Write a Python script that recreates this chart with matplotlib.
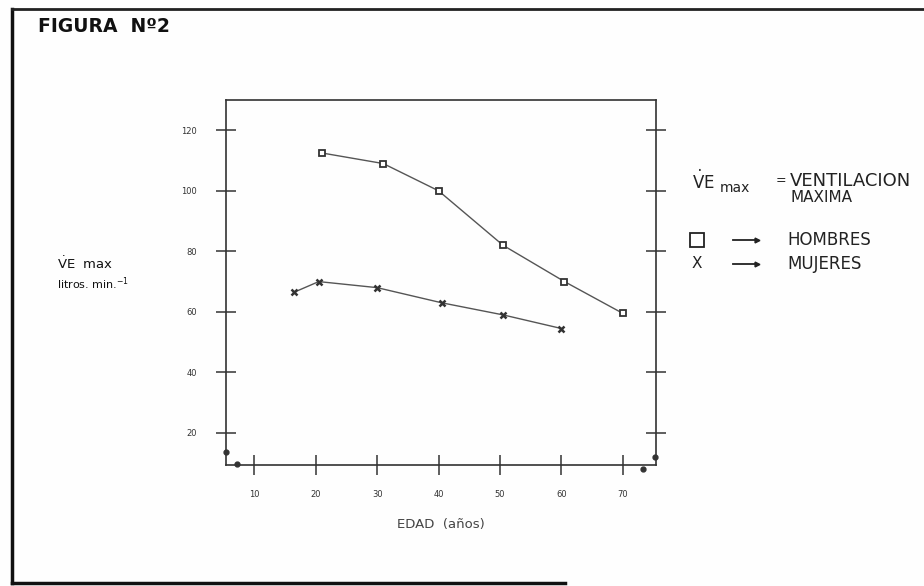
import matplotlib.pyplot as plt
from matplotlib.lines import Line2D

plt.rcParams['font.family'] = ['DejaVu Sans']
plt.rcParams['mathtext.fontset'] = 'dejavusans'

# ventilacion maxima por edad
edad_h = [21, 31, 40, 50.5, 60.5, 70]
ve_hombres = [112.5, 109, 100, 82, 70, 59.5]
edad_m = [16.5, 20.5, 30, 40.5, 50.5, 60]
ve_mujeres = [66.5, 70, 68, 63, 59, 54.5]

xticks = [10, 20, 30, 40, 50, 60, 70]
yticks = [20, 40, 60, 80, 100, 120]

W, H = 924, 586
fig = plt.figure(figsize=(W / 100, H / 100), dpi=100)
fig.patch.set_facecolor('#fefefe')

ax = fig.add_axes([226 / W, 1 - 465 / H, (656 - 226) / W, (465 - 100) / H])
ax.set_facecolor('none')
ax.set_xlim(5.4, 75.4)
ax.set_ylim(9.4, 130)

linec = '#555555'
ax.plot(edad_h, ve_hombres, color=linec, lw=1.0, marker='s', ms=5,
        mfc='white', mec='#333333', mew=1.3)
ax.plot(edad_m, ve_mujeres, color=linec, lw=1.0, marker='x', ms=5,
        mec='#333333', mew=1.8)

for s in ax.spines.values():
    s.set_color('#333333')
    s.set_linewidth(1.2)

ax.set_xticks(xticks)
ax.set_yticks(yticks)
ax.tick_params(axis='both', direction='inout', length=14, width=1.1,
               color='#333333', labelsize=6, labelcolor='#333333')
ax.tick_params(axis='x', pad=11)
ax.tick_params(axis='y', pad=14, right=True)

# marcas de corte en las esquinas inferiores
for (px, py) in [(226, 452), (237, 464), (655, 457), (643, 469)]:
    ax.plot([(px - 226) / 430], [(465 - py) / 365], 'o', ms=3.5,
            color='#333333', transform=ax.transAxes, clip_on=False)

ax.set_xlabel('EDAD  (años)', fontsize=9.5, color='#444444', labelpad=14)

# textos
fig.text(38 / W, 1 - 27 / H, 'FIGURA  Nº2', fontsize=13.5, fontweight='bold',
         color='#111111', va='center')
fig.text(57 / W, 1 - 264 / H, r'$\dot{\mathrm{V}}$E  max', fontsize=9.5,
         color='#111111', va='center')
fig.text(57 / W, 1 - 284 / H, r'litros. min.$^{-1}$', fontsize=8,
         color='#111111', va='center')

fig.text(692 / W, 1 - 181 / H, r'$\dot{\mathrm{V}}$E', fontsize=12,
         color='#222222', va='center')
fig.text(720 / W, 1 - 188 / H, 'max', fontsize=10, color='#222222', va='center')
fig.text(776 / W, 1 - 181 / H, '=', fontsize=9, color='#222222', va='center')
fig.text(790 / W, 1 - 181 / H, 'VENTILACION', fontsize=13, color='#222222',
         va='center')
fig.text(790 / W, 1 - 198 / H, 'MAXIMA', fontsize=11, color='#222222',
         va='center')

for ty, mk, lab in [(240, 's', 'HOMBRES'), (264, 'x', 'MUJERES')]:
    if mk == 's':
        fig.add_artist(Line2D([697 / W], [1 - ty / H], marker='s', ms=10,
                              mfc='white', mec='#222222', mew=1.3, ls='none'))
    else:
        fig.text(697 / W, 1 - ty / H, 'X', fontsize=11, color='#222222',
                 ha='center', va='center')
    fig.add_artist(Line2D([733 / W, 757 / W], [1 - ty / H, 1 - ty / H],
                          color='#222222', lw=1.3))
    fig.add_artist(Line2D([757 / W], [1 - ty / H], marker='>', ms=3.5,
                          color='#222222', ls='none'))
    fig.text(787 / W, 1 - ty / H, lab, fontsize=12, color='#222222', va='center')

# marco de la figura
fig.add_artist(Line2D([12 / W, 12 / W], [1 - 9 / H, 1 - 583 / H], color='#111111', lw=2.5))
fig.add_artist(Line2D([12 / W, 1], [1 - 9 / H, 1 - 9 / H], color='#222222', lw=2))
fig.add_artist(Line2D([12 / W, 565 / W], [1 - 583 / H, 1 - 583 / H], color='#111111', lw=2.5))

fig.savefig('out.png', dpi=100, facecolor=fig.get_facecolor())
